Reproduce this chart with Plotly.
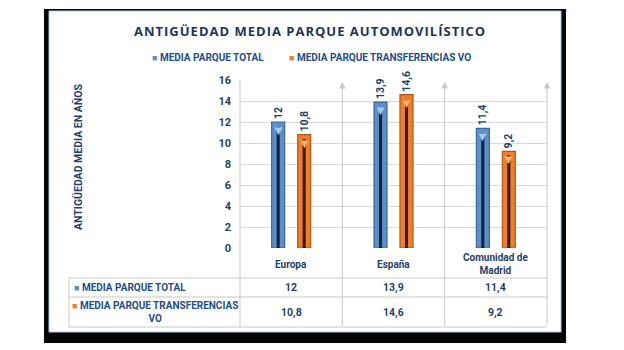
import plotly.graph_objects as go

# ---------------- data ----------------
categories = ["Europa", "España", "Comunidad de Madrid"]
category_labels = ["Europa", "España", "Comunidad de<br>Madrid"]
series_names = ["MEDIA PARQUE TOTAL", "MEDIA PARQUE TRANSFERENCIAS VO"]
media_total = [12, 13.9, 11.4]
media_transferencias = [10.8, 14.6, 9.2]
y_ticks = [0, 2, 4, 6, 8, 10, 12, 14, 16]
title_text = "ANTIGÜEDAD MEDIA PARQUE AUTOMOVILÍSTICO"
y_title = "ANTIGÜEDAD MEDIA EN AÑOS"

# ---------------- style ----------------
W, H = 624, 350
ML, MR, MT, MB = 240, 77, 80, 102
PW, PH = W - ML - MR, H - MT - MB
NAVY = "#1F3F6E"
TITLE_C = "#1B3560"
FONT = "Roboto, sans-serif"
GRID = "#D9D9D9"
fill_cols = ["#5B8FCB", "#EC7E2C"]
edge_cols = ["#3A6699", "#B8580F"]
core_cols = ["#14243A", "#3A1A02"]
tip_cols = ["#A9C8EC", "#F6B072"]
BAR_W = 0.127
OFFS = [-0.127, 0.127]
FS_TXT = 10
FS_NUM = 10.5
FS_TICK = 11


def xp(px):
    return (px - ML) / PW


def yp(py):
    return (H - MB - py) / PH


def fmt(v):
    return f"{v:g}".replace(".", ",")


def key(color):
    return f'<span style="color:{color};font-size:9px">■</span>'


series_vals = [media_total, media_transferencias]

fig = go.Figure()
for k, (name, vals) in enumerate(zip(series_names, series_vals)):
    fig.add_trace(go.Bar(
        x=categories, y=vals, name=name,
        width=BAR_W, offset=OFFS[k] - BAR_W / 2,
        marker=dict(color=fill_cols[k], line=dict(color=edge_cols[k], width=1.2)),
        text=[fmt(v) for v in vals], textposition="outside", textangle=-90,
        constraintext="none",
        textfont=dict(family=FONT, size=FS_NUM, color=NAVY, weight="bold"),
        cliponaxis=False, showlegend=False,
    ))
    # dark cylinder core
    fig.add_trace(go.Bar(
        x=categories, y=[v * 0.96 for v in vals], name=name + " core",
        width=0.03, offset=OFFS[k] - 0.015,
        marker=dict(color=core_cols[k], line=dict(width=0)),
        showlegend=False, hoverinfo="skip",
    ))

annotations = []
# bevel triangles at the bar tops
for k, vals in enumerate(series_vals):
    for i, v in enumerate(vals):
        annotations.append(dict(x=i + OFFS[k], y=v, xref="x", yref="y", text="▼",
                                showarrow=False, yanchor="top", yshift=3,
                                font=dict(size=13, color=tip_cols[k])))
# title
annotations.append(dict(x=xp(310), y=yp(31), xref="paper", yref="paper",
                        text=f'<span style="letter-spacing:1px">{title_text}</span>',
                        showarrow=False, xanchor="center", yanchor="middle",
                        font=dict(family="Open Sans, sans-serif", size=13, color=TITLE_C, weight="bold")))
# legend
leg_x = [150, 287]
for k, name in enumerate(series_names):
    annotations.append(dict(x=xp(leg_x[k]), y=yp(57), xref="paper", yref="paper",
                            text=f'{key(fill_cols[k])} {name}',
                            showarrow=False, xanchor="left", yanchor="middle",
                            font=dict(family=FONT, size=FS_TXT, color="#1F4E8C", weight="bold")))
# y-axis title
annotations.append(dict(x=xp(78), y=yp(157), xref="paper", yref="paper", text=y_title,
                        textangle=-90, showarrow=False, xanchor="center", yanchor="middle",
                        font=dict(family=FONT, size=10.5, color=NAVY, weight="bold")))
# category header row
for i, lab in enumerate(category_labels):
    annotations.append(dict(x=i, y=yp(264), xref="x", yref="paper", text=lab,
                            showarrow=False, xanchor="center", yanchor="middle",
                            font=dict(family=FONT, size=FS_TXT, color=NAVY, weight="bold")))
# table row headers
annotations.append(dict(x=xp(72), y=yp(287.5), xref="paper", yref="paper",
                        text=f'{key(fill_cols[0])} {series_names[0]}',
                        showarrow=False, xanchor="left", yanchor="middle",
                        font=dict(family=FONT, size=FS_TXT, color="#1F4E8C", weight="bold")))
n2 = series_names[1].rsplit(" ", 1)
annotations.append(dict(x=xp(155), y=yp(312), xref="paper", yref="paper",
                        text=f'{key(fill_cols[1])} {n2[0]}<br>{n2[1]}',
                        showarrow=False, xanchor="center", yanchor="middle", align="center",
                        font=dict(family=FONT, size=FS_TXT, color="#1F4E8C", weight="bold")))
# table values
row_y = [287.5, 312]
for k, vals in enumerate(series_vals):
    for i, v in enumerate(vals):
        annotations.append(dict(x=i, y=yp(row_y[k]), xref="x", yref="paper", text=fmt(v),
                                showarrow=False, xanchor="center", yanchor="middle",
                                font=dict(family=FONT, size=FS_NUM, color=NAVY, weight="bold")))
# vertical separators with arrow heads
for i in range(len(categories)):
    annotations.append(dict(x=i + 0.5, y=yp(82), xref="x", yref="paper",
                            ax=0, ay=327 - 82, axref="pixel", ayref="pixel",
                            text="", showarrow=True, arrowhead=2, arrowsize=1.3,
                            arrowwidth=1, arrowcolor="#C8C8C8"))

shapes = [
    # frame
    dict(type="rect", xref="paper", yref="paper", x0=xp(44), x1=xp(566), y0=yp(343), y1=yp(9),
         fillcolor="#050505", line=dict(width=0), layer="below"),
    dict(type="rect", xref="paper", yref="paper", x0=xp(49), x1=xp(561), y0=yp(332), y1=yp(11),
         fillcolor="#FFFFFF", line=dict(color="#A9CBEA", width=1), layer="below"),
    # left line of plot / table
    dict(type="line", xref="paper", yref="paper", x0=0, x1=0, y0=yp(80), y1=yp(327),
         line=dict(color="#C8C8C8", width=1)),
    # table
    dict(type="line", xref="paper", yref="paper", x0=xp(69), x1=xp(69), y0=yp(278), y1=yp(327),
         line=dict(color="#C8C8C8", width=1)),
]
for yy in [278, 297, 327]:
    shapes.append(dict(type="line", xref="paper", yref="paper", x0=xp(69), x1=1, y0=yp(yy), y1=yp(yy),
                       line=dict(color="#C8C8C8", width=1)))

fig.update_layout(
    width=W, height=H,
    margin=dict(l=ML, r=MR, t=MT, b=MB),
    paper_bgcolor="white", plot_bgcolor="rgba(0,0,0,0)",
    barmode="overlay", separators=",.",
    showlegend=False,
    annotations=annotations, shapes=shapes,
    xaxis=dict(type="category", categoryorder="array", categoryarray=categories,
               range=[-0.5, 2.5], showticklabels=False, showgrid=False, zeroline=False,
               showline=False, ticks=""),
    yaxis=dict(range=[0, 16], tickvals=y_ticks, showgrid=True, gridcolor=GRID, gridwidth=1,
               zeroline=False, showline=False, ticks="", ticklabelstandoff=8,
               tickfont=dict(family=FONT, size=FS_TICK, color=NAVY, weight="bold")),
)

fig.write_html("out.html")
